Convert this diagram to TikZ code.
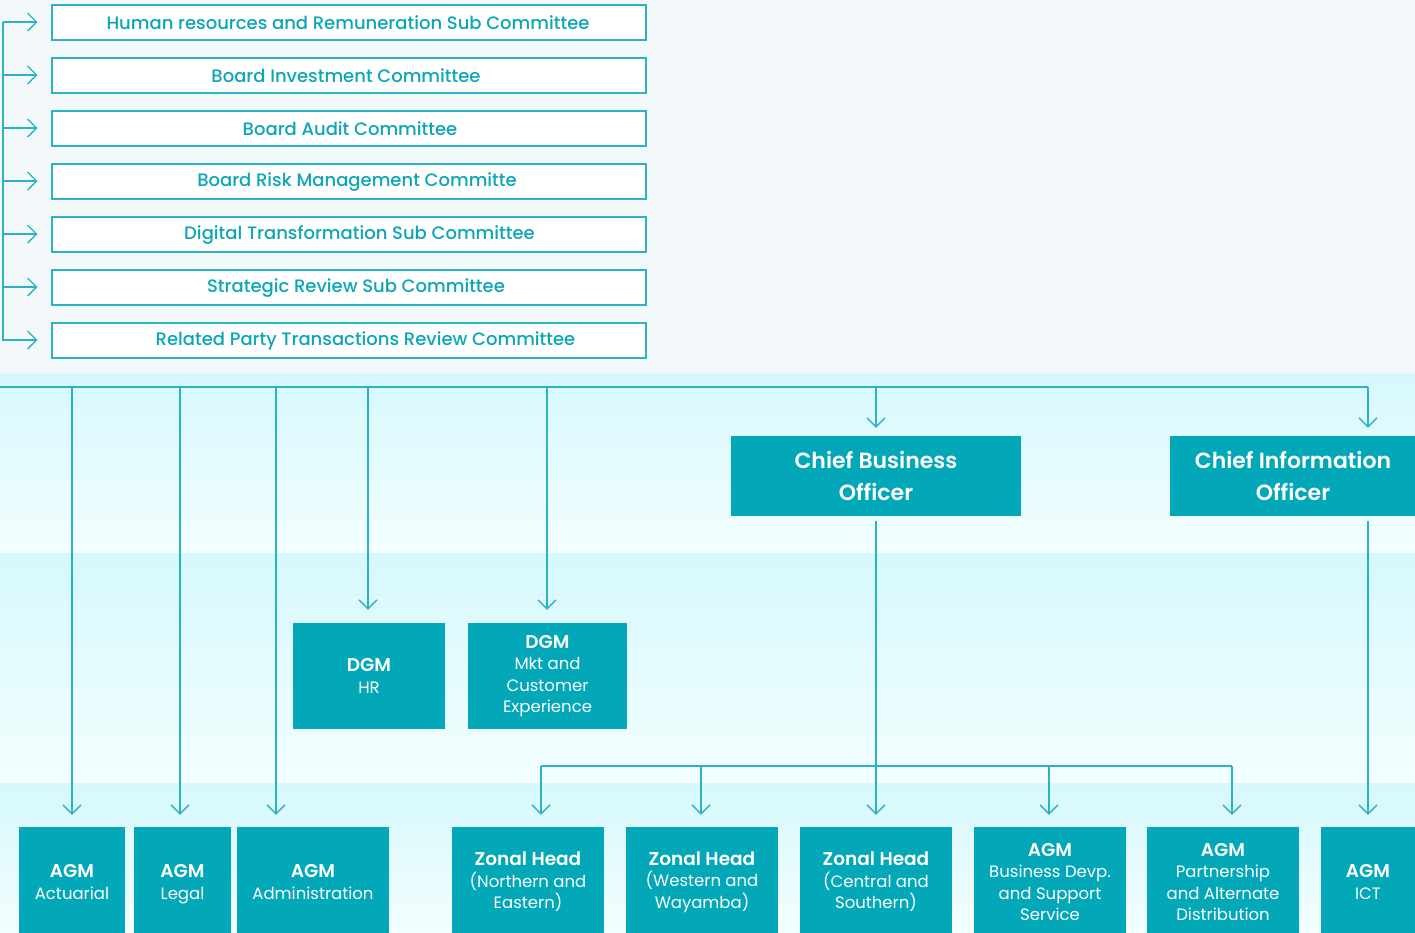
\documentclass[tikz,border=0pt]{standalone}
\usepackage{fontspec}
\setmainfont{Poppins}
\newfontfamily\fmed{Poppins Medium}
\newfontfamily\fsemi{Poppins SemiBold}
\usetikzlibrary{arrows.meta}

\definecolor{paper}{HTML}{F3F8FB}
\definecolor{bandtop}{HTML}{D6F8FC}
\definecolor{bandbot}{HTML}{F3FEFF}
\definecolor{wire}{HTML}{2AB4C3}
\definecolor{boxfill}{HTML}{02A8B8}
\definecolor{commtext}{HTML}{0CA6B6}

\tikzset{
  band/.style={top color=bandtop, bottom color=bandbot, draw=none},
  commbox/.style={draw=wire, line width=2pt, fill=white, minimum width=594pt,
    minimum height=35pt, inner sep=0pt},
  commlabel/.style={text=commtext, inner sep=0pt,
    font=\fmed\fontsize{18}{22}\selectfont},
  unit/.style={fill=boxfill, text=white, inner sep=0pt, align=center,
    font=\fontsize{16.5}{21.5}\selectfont},
  chief/.style={fill=boxfill, text=white, inner sep=0pt, align=center,
    minimum height=80pt, font=\fsemi\fontsize{22}{32}\selectfont},
  wireline/.style={draw=wire, line width=1.4pt},
  arr/.style={wireline, -{Straight Barb[length=9pt,width=18pt]}},
}
\newcommand{\ttl}[1]{{\fsemi\fontsize{18.5}{22}\selectfont #1}}

\begin{document}
\begin{tikzpicture}[x=1pt,y=-1pt]
\useasboundingbox (0,0) rectangle (1415,932);
\clip (0,0) rectangle (1415,932);

% backgrounds
\fill[paper] (0,0) rectangle (1415,373);
\shade[band] (0,373) rectangle (1415,553);
\shade[band] (0,553) rectangle (1415,783);
\shade[band] (0,783) rectangle (1415,932);

% board committees
\node[commbox] (c1) at (348.5,22) {};
\node[commbox] (c2) at (348.5,75) {};
\node[commbox] (c3) at (348.5,128) {};
\node[commbox] (c4) at (348.5,181) {};
\node[commbox] (c5) at (348.5,234) {};
\node[commbox] (c6) at (348.5,287) {};
\node[commbox] (c7) at (348.5,340) {};
\node[commlabel] (c1t) at (348,23) {Human resources and Remuneration Sub Committee};
\node[commlabel] (c2t) at (346,76) {Board Investment Committee};
\node[commlabel] (c3t) at (350,129) {Board Audit Committee};
\node[commlabel] (c4t) at (357,182) {Board Risk Management Committe};
\node[commlabel] (c5t) at (359.5,235) {Digital Transformation Sub Committee};
\node[commlabel] (c6t) at (356,288) {Strategic Review Sub Committee};
\node[commlabel] (c7t) at (365.5,341) {Related Party Transactions Review Committee};

% committee bracket
\coordinate (k1) at (3,22);
\coordinate (k7) at (3,341);
\draw[wireline] (k1) -- (k7);
\foreach \c in {c1,c2,c3,c4,c5,c6,c7}
  \draw[arr, shorten >=13pt] (k1 |- \c.west) -- (\c.west);

% chiefs
\node[chief, minimum width=290pt] (cbo) at (876,476) {Chief Business\\Officer};
\node[chief, minimum width=246pt] (cio) at (1293,476) {Chief Information\\Officer};

% deputy general managers
\node[unit, minimum width=152pt, minimum height=106pt] (dhr) at (369,676) {\ttl{DGM}\\HR};
\node[unit, minimum width=159pt, minimum height=106pt] (dmk) at (547.5,676)
  {\ttl{DGM}\\Mkt and\\Customer\\Experience};

% bottom row
\node[unit, minimum width=106pt, minimum height=110pt] (act) at (72,882) {\ttl{AGM}\\Actuarial};
\node[unit, minimum width=97pt, minimum height=110pt, text depth=0pt] (leg) at (182.5,882) {\ttl{AGM}\\Legal};
\node[unit, minimum width=152pt, minimum height=110pt] (adm) at (313,882) {\ttl{AGM}\\Administration};
\node[unit, minimum width=152pt, minimum height=110pt] (zn) at (528,882) {\ttl{Zonal Head}\\(Northern and\\Eastern)};
\node[unit, minimum width=152pt, minimum height=110pt] (zw) at (702,882) {\ttl{Zonal Head}\\(Western and\\Wayamba)};
\node[unit, minimum width=152pt, minimum height=110pt] (zc) at (876,882) {\ttl{Zonal Head}\\(Central and\\Southern)};
\node[unit, minimum width=152pt, minimum height=110pt] (bd) at (1050,882) {\ttl{AGM}\\Business Devp.\\and Support\\Service};
\node[unit, minimum width=152pt, minimum height=110pt] (pa) at (1223,882) {\ttl{AGM}\\Partnership\\and Alternate\\Distribution};
\node[unit, minimum width=94pt, minimum height=110pt] (ict) at (1368,882) {\ttl{AGM}\\ICT};

% main bus from the board
\coordinate (bus0) at (0,387);
\coordinate (busE) at (1368,387);
\draw[wireline] (bus0) -- (busE);
\foreach \xx/\target/\gap in {72/act/12, 180/leg/12, 276/adm/12, 368/dhr/13, 547/dmk/13, 876/cbo/8, 1368/cio/8}{
  \coordinate (drop) at (\xx,387);
  \draw[arr, shorten >=\gap pt] (drop) -- (drop |- \target.north);
}

% chief business officer's zones
\coordinate (zbus1) at (541,766);
\coordinate (zbus2) at (1232,766);
\draw[wireline] (zbus1) -- (zbus2);
\draw[arr, shorten <=5pt, shorten >=12pt] (cbo.south) -- (zc.north);
\foreach \xx/\target in {541/zn, 701/zw, 1049/bd, 1232/pa}{
  \coordinate (zdrop) at (\xx,766);
  \draw[arr, shorten >=12pt] (zdrop) -- (zdrop |- \target.north);
}

% chief information officer's unit
\draw[arr, shorten <=5pt, shorten >=12pt] (cio.south -| ict.north) -- (ict.north);
\end{tikzpicture}
\end{document}
